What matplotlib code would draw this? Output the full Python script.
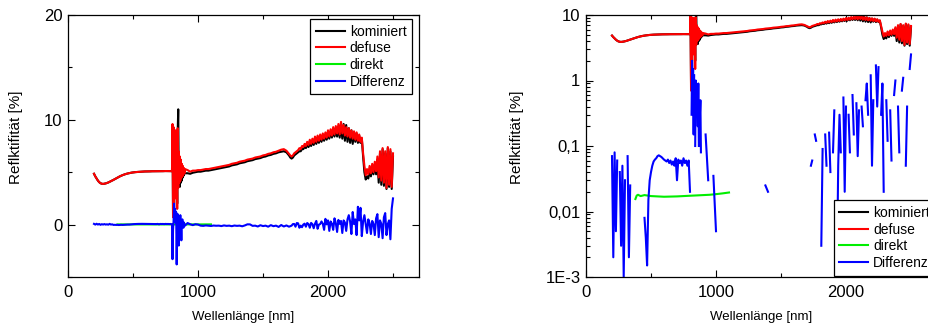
import numpy as np
import matplotlib
matplotlib.use('Agg')
import matplotlib.pyplot as plt
from matplotlib.ticker import MultipleLocator, LogLocator, FuncFormatter, NullFormatter

plt.rcParams['font.family'] = ['Liberation Sans', 'DejaVu Sans']

# Wavelength grid of the measurement (nm), finer where the signal is noisy
wl = np.concatenate([np.arange(200, 791, 10), np.arange(800, 901, 4),
                     np.arange(920, 1701, 20), np.arange(1710, 2501, 10)])

# defuse (red)
defuse_a = [4.85, 4.6, 4.4, 4.2, 4.05, 3.95, 3.9, 3.88, 3.9, 3.93,
            3.97, 4.02, 4.08, 4.14, 4.2, 4.27, 4.34, 4.41, 4.48, 4.55,
            4.61, 4.67, 4.72, 4.77, 4.81, 4.85, 4.88, 4.91, 4.94, 4.96,
            4.98, 5.0, 5.01, 5.02, 5.03, 5.04, 5.05, 5.06, 5.06, 5.07,
            5.07, 5.08, 5.08, 5.08, 5.09, 5.09, 5.09, 5.09, 5.1, 5.1,
            5.1, 5.1, 5.1, 5.1, 5.11, 5.11, 5.11, 5.11, 5.12, 5.12]
defuse_b = [5.1, 9.6, 0.7, 9.3, 1.5, 8.5, 2.5, 9.0, 3.0, 7.5, 1.5, 9.2, 3.5,
            7.0, 4.0, 6.5, 4.2, 6.2, 4.5, 5.8, 4.6, 5.6, 4.8, 5.4, 4.9, 5.3]
defuse_c = [5.2, 5.05, 5.15, 5.15, 5.2, 5.2, 5.25, 5.3, 5.3, 5.35,
            5.4, 5.45, 5.5, 5.55, 5.6, 5.65, 5.7, 5.8, 5.85, 5.9,
            6.0, 6.05, 6.1, 6.2, 6.25, 6.3, 6.4, 6.45, 6.5, 6.6,
            6.65, 6.75, 6.8, 6.9, 6.95, 7.05, 7.15, 7.2, 7.05, 6.75]
defuse_d = [6.6, 6.5, 6.6, 6.8, 6.9, 7.0, 7.1, 7.3, 7.2, 7.5,
            7.4, 7.7, 7.5, 7.9, 7.6, 8.1, 7.7, 8.2, 7.8, 8.4,
            7.9, 8.5, 8.0, 8.6, 8.1, 8.7, 8.2, 8.8, 8.3, 9.0,
            8.4, 9.1, 8.5, 9.3, 8.6, 9.4, 8.7, 9.6, 8.6, 9.8,
            8.7, 9.5, 8.5, 9.3, 8.4, 9.2, 8.3, 9.0, 8.2, 8.9,
            8.1, 8.8, 8.0, 8.6, 7.9, 8.3, 6.8, 5.6, 4.7, 5.3,
            4.8, 5.6, 4.9, 5.8, 5.0, 6.0, 5.1, 6.5, 4.5, 7.0,
            4.2, 7.3, 4.0, 7.0, 3.5, 7.4, 3.8, 7.2, 3.6, 6.8]

# kominiert (black)
kom_a = [4.85, 4.6, 4.4, 4.2, 4.05, 3.95, 3.9, 3.88, 3.9, 3.93,
         3.97, 4.02, 4.08, 4.14, 4.2, 4.27, 4.34, 4.41, 4.48, 4.55,
         4.61, 4.67, 4.72, 4.77, 4.81, 4.85, 4.88, 4.91, 4.94, 4.96,
         4.98, 5.0, 5.01, 5.02, 5.03, 5.04, 5.05, 5.06, 5.06, 5.07,
         5.07, 5.08, 5.08, 5.08, 5.09, 5.09, 5.09, 5.09, 5.1, 5.1,
         5.1, 5.1, 5.1, 5.1, 5.11, 5.11, 5.11, 5.11, 5.12, 5.12]
kom_b = [5.1, 9.4, 0.9, 9.0, 2.0, 8.0, 3.0, 8.8, 3.5, 7.0, 2.0, 9.0, 11.0,
         4.0, 6.5, 3.6, 6.0, 4.0, 5.6, 4.2, 5.5, 4.5, 5.3, 4.7, 5.2, 4.9]
kom_c = [4.9, 4.85, 4.95, 5.0, 5.05, 5.05, 5.1, 5.15, 5.15, 5.2,
         5.25, 5.3, 5.35, 5.4, 5.45, 5.5, 5.55, 5.65, 5.7, 5.75,
         5.85, 5.9, 5.95, 6.05, 6.1, 6.15, 6.25, 6.3, 6.35, 6.45,
         6.5, 6.6, 6.65, 6.75, 6.8, 6.9, 6.95, 7.0, 6.9, 6.6]
kom_d = [6.4, 6.3, 6.4, 6.6, 6.7, 6.8, 6.9, 7.0, 7.0, 7.2,
         7.2, 7.4, 7.3, 7.6, 7.4, 7.8, 7.5, 7.9, 7.6, 8.1,
         7.7, 8.2, 7.8, 8.3, 7.9, 8.4, 8.0, 8.5, 8.1, 8.7,
         8.2, 8.8, 8.3, 9.0, 8.4, 9.1, 8.4, 9.3, 8.3, 9.5,
         8.2, 9.6, 8.0, 9.5, 7.9, 9.2, 7.8, 9.0, 7.7, 8.8,
         7.9, 8.7, 7.8, 8.5, 7.8, 8.2, 6.5, 5.0, 4.3, 4.6,
         4.4, 5.2, 4.6, 5.5, 4.8, 5.7, 4.8, 6.2, 4.0, 6.8,
         3.8, 7.2, 3.7, 6.8, 3.4, 7.3, 3.6, 7.0, 3.4, 6.5]

# Differenz (blue)
diff_a = [0.07, 0.002, 0.08, 0.005, 0.06, -0.02, 0.04, 0.003, 0.05, 0.001,
          0.03, -0.01, 0.07, 0.002, 0.025, -0.03, -0.02, -0.03, -0.02, -0.04,
          -0.03, -0.02, -0.03, -0.02, -0.01, 0.008, 0.004, 0.0015, 0.015, 0.03,
          0.04, 0.05, 0.058, 0.062, 0.065, 0.07, 0.072, 0.07, 0.068, 0.065,
          0.062, 0.06, 0.058, 0.062, 0.055, 0.06, 0.052, 0.058, 0.05, 0.065,
          0.03, 0.062, 0.055, 0.06, 0.05, 0.065, 0.055, 0.06, 0.05, 0.06]
diff_b = [0.02, -3.3, -0.5, 0.3, 2.0, 0.8, 1.5, 0.15, 1.2, -3.8, 0.1, 1.0, 0.4,
          -2.0, 0.6, 0.2, 0.9, 0.1, -1.5, 0.3, 0.5, 0.08, -0.3, 0.2, -0.1, -0.1]
diff_c = [0.15, 0.03, -0.05, 0.035, 0.005, -0.1, -0.12, -0.08, -0.1, -0.13,
          -0.09, -0.11, -0.1, -0.14, -0.08, -0.12, -0.1, -0.15, -0.09, -0.12,
          -0.1, -0.16, -0.08, 0.025, 0.02, -0.12, -0.1, -0.18, -0.06, -0.14,
          -0.1, -0.2, -0.05, -0.15, -0.1, -0.22, -0.04, -0.18, -0.08, -0.2]
diff_d = [-0.15, -0.1, 0.05, 0.06, -0.2, 0.15, 0.12, -0.3, -0.1, -0.25,
          0.003, 0.09, -0.2, 0.15, 0.05, -0.3, 0.16, 0.04, -0.35, 0.08,
          0.35, -0.4, 0.001, 0.05, 0.3, 0.08, -0.5, 0.55, 0.02, 0.4,
          -0.6, 0.3, 0.08, -0.5, 0.6, 0.15, -0.7, 0.45, 0.07, 0.35,
          -0.8, 0.4, 0.2, -0.6, 0.5, 0.9, 0.3, -0.9, 1.2, 0.05,
          0.5, -1.0, 1.7, 0.4, 1.6, -1.1, 0.3, 0.9, 0.02, -0.8,
          0.5, 0.12, -0.9, 0.35, 0.06, -1.0, 0.6, 1.0, -1.2, 0.4,
          0.08, -1.3, 0.7, 1.1, -1.0, 0.05, 0.4, -1.4, 1.5, 2.5]

# direkt (green), only measured 380-1100 nm
wl_direkt = [380, 390, 400, 420, 450, 500, 550, 600, 650, 700, 750, 800,
             850, 900, 950, 1000, 1050, 1100]
direkt = [0.0155, 0.0175, 0.018, 0.0172, 0.0178, 0.0172, 0.017, 0.0168, 0.0169,
          0.017, 0.0172, 0.0174, 0.0176, 0.0178, 0.018, 0.0184, 0.0189, 0.0195]

defuse = np.concatenate([defuse_a, defuse_b, defuse_c, defuse_d])
kominiert = np.concatenate([kom_a, kom_b, kom_c, kom_d])
differenz = np.concatenate([diff_a, diff_b, diff_c, diff_d])

log_labels = {10: '10', 1: '1', 0.1: '0,1', 0.01: '0,01', 0.001: '1E-3'}

fig = plt.figure(figsize=(9.29, 3.28), dpi=100)
ax1 = fig.add_axes([68 / 929, 51 / 328, 351 / 929, 262 / 328])
ax2 = fig.add_axes([586 / 929, 51 / 328, 351 / 929, 262 / 328])


def draw(ax, ylab_x):
    ax.plot(wl, kominiert, color='black', lw=1.5, label='kominiert')
    ax.plot(wl, defuse, color='red', lw=1.5, label='defuse')
    ax.plot(wl_direkt, direkt, color='#00ee00', lw=1.5, label='direkt')
    ax.plot(wl, differenz, color='blue', lw=1.5, label='Differenz')
    ax.set_xlim(0, 2700)
    ax.xaxis.set_major_locator(MultipleLocator(1000))
    ax.xaxis.set_minor_locator(MultipleLocator(500))
    ax.tick_params(which='both', direction='in', top=True, right=True,
                   labelsize=12, pad=4, width=0.8)
    ax.tick_params(axis='x', pad=6)
    ax.tick_params(which='major', length=5)
    ax.tick_params(which='minor', length=3)
    ax.set_xlabel('Wellenlänge [nm]', fontsize=9.5, labelpad=8)
    ax.set_ylabel('Reflktifität [%]', fontsize=11)
    ax.yaxis.set_label_coords(ylab_x, 0.534)
    for s in ax.spines.values():
        s.set_linewidth(0.9)


draw(ax1, -0.128)
ax1.set_ylim(-5, 20)
ax1.yaxis.set_major_locator(MultipleLocator(10))
ax1.yaxis.set_minor_locator(MultipleLocator(5))
leg1 = ax1.legend(loc='upper right', bbox_to_anchor=(1 - 7 / 351, 1 - 4 / 262),
                  borderaxespad=0, fontsize=10, fancybox=False, edgecolor='black',
                  framealpha=1, handlelength=2.1, handletextpad=0.35,
                  labelspacing=0.2, borderpad=0.4)
leg1.get_frame().set_linewidth(0.9)

draw(ax2, -0.177)
ax2.set_yscale('log', nonpositive='mask')
ax2.set_ylim(1e-3, 10)
ax2.yaxis.set_major_locator(LogLocator(base=10))
ax2.yaxis.set_minor_locator(LogLocator(base=10, subs=np.arange(2, 10)))
ax2.yaxis.set_major_formatter(FuncFormatter(lambda v, p: log_labels.get(round(v, 6), '')))
ax2.yaxis.set_minor_formatter(NullFormatter())
leg2 = ax2.legend(loc='lower right', borderaxespad=0.1, fontsize=10, fancybox=False,
                  edgecolor='black', framealpha=1, handlelength=2.1,
                  handletextpad=0.35, labelspacing=0.2, borderpad=0.4)
leg2.get_frame().set_linewidth(0.9)

fig.savefig('out.png', dpi=100)
